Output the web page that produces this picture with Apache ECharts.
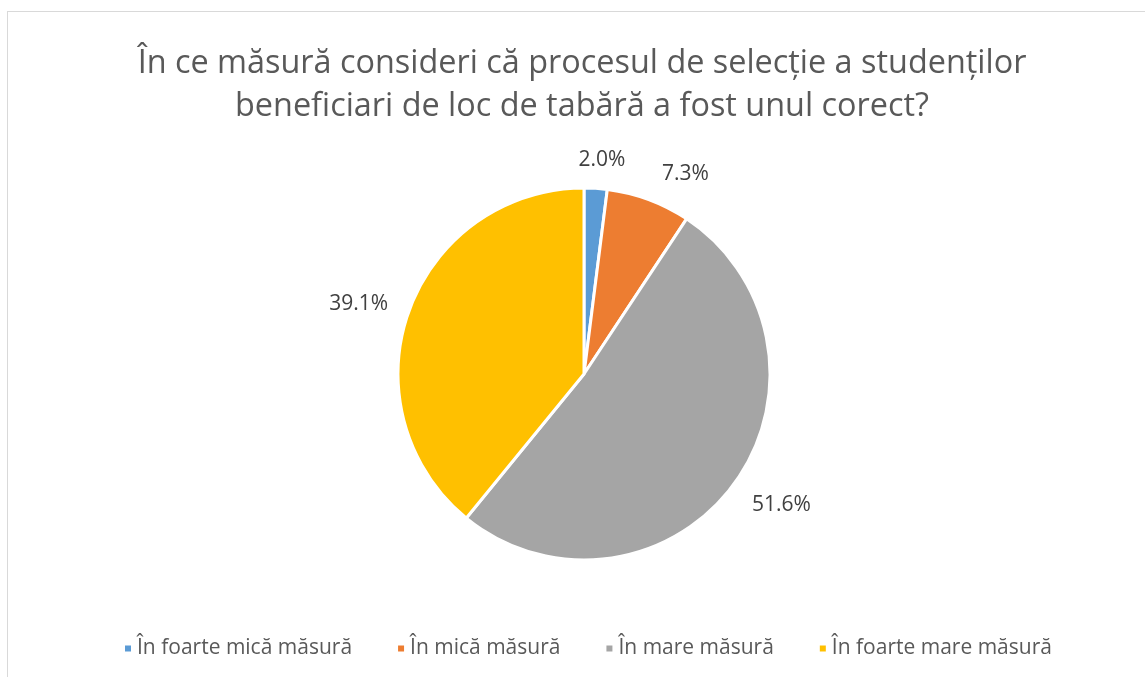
<!DOCTYPE html>
<html>
<head>
<meta charset="utf-8">
<script src="https://cdn.jsdelivr.net/npm/echarts@6/dist/echarts.min.js"></script>
<style>
  html, body { margin: 0; padding: 0; background: #fff; overflow: hidden; }
  #frame { position: absolute; left: 7px; top: 11px; width: 1200px; height: 700px; border: 1px solid #d9d9d9; }
  #chart { position: absolute; left: 0; top: 0; width: 1145px; height: 677px; }
</style>
</head>
<body>
<div id="frame"></div>
<div id="chart"></div>
<script>
// date
const categories = ['În foarte mică măsură', 'În mică măsură', 'În mare măsură', 'În foarte mare măsură']
const values = [2.0, 7.3, 51.6, 39.1]

const colors = ['#5B9BD5', '#ED7D31', '#A5A5A5', '#FFC000']
// lungimi linie eticheta (ascunsa) ca sa pozitionam procentele ca in Excel
const lineLen = [28, 27, 35, 22]
const lineLen2 = [-24, -1, -15, -5]

const chart = echarts.init(document.getElementById('chart'))

const option = {
  animation: false,
  title: {
    text: 'În ce măsură consideri că procesul de selecție a studenților\nbeneficiari de loc de tabără a fost unul corect?',
    left: 577,
    textAlign: 'center',
    top: 37,
    textStyle: {
      fontFamily: 'Open Sans',
      fontSize: 32.4,
      fontWeight: 'normal',
      color: '#595959',
      lineHeight: 43
    }
  },
  legend: {
    bottom: 13,
    left: 118,
    itemWidth: 8,
    itemHeight: 8,
    itemGap: 44,
    icon: 'rect',
    textStyle: { fontFamily: 'Open Sans', fontSize: 21, color: '#595959' },
    data: categories
  },
  series: [
    {
      type: 'pie',
      center: [584, 374],
      radius: 186,
      startAngle: 90,
      clockwise: true,
      avoidLabelOverlap: false,
      itemStyle: { borderColor: '#fff', borderWidth: 3 },
      label: {
        show: true,
        position: 'outside',
        fontFamily: 'Open Sans',
        fontSize: 21,
        color: '#404040',
        formatter: p => p.value.toFixed(1) + '%'
      },
      labelLine: { show: false },
      emphasis: { disabled: true },
      data: categories.map((name, i) => ({
        name,
        value: values[i],
        itemStyle: { color: colors[i] },
        labelLine: { show: false, length: lineLen[i], length2: lineLen2[i] }
      }))
    }
  ]
}

chart.setOption(option)
</script>
</body>
</html>
